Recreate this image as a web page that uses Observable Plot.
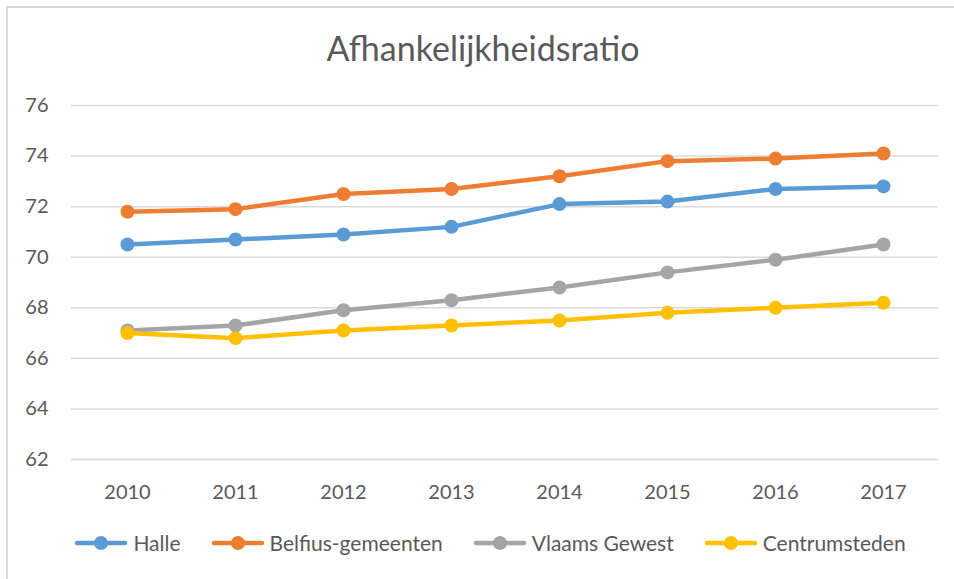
<!DOCTYPE html>
<html>
<head>
<meta charset="utf-8">
<script src="https://cdn.jsdelivr.net/npm/d3@7"></script>
<script src="https://cdn.jsdelivr.net/npm/@observablehq/plot@0.6"></script>
<style>
  html, body { margin: 0; padding: 0; background: #fff; }
  body { width: 954px; height: 579px; position: relative; overflow: hidden; font-family: Lato, "Open Sans", sans-serif; }
  #frame { position: absolute; left: 6px; top: 6px; width: 960px; height: 590px; border-left: 2px solid #d9d9d9; border-top: 2px solid #d9d9d9; box-sizing: border-box; }
  #title { position: absolute; left: 0; top: 28px; width: 966px; text-align: center; font-size: 34px; line-height: 1.2; color: #595959; font-weight: 400; }
  #plot { position: absolute; left: 0; top: 0; }
  #legend { position: absolute; left: 0; top: 530px; width: 980px; display: flex; justify-content: center; gap: 0 30px; font-size: 21px; color: #595959; }
  .item { display: flex; align-items: center; }
  .item svg { margin-right: 5px; }
</style>
</head>
<body>
<div id="frame"></div>
<div id="title">Afhankelijkheidsratio</div>
<div id="plot"></div>
<div id="legend"></div>
<script>
const years = [2010, 2011, 2012, 2013, 2014, 2015, 2016, 2017];
const seriesNames = ["Halle", "Belfius-gemeenten", "Vlaams Gewest", "Centrumsteden"];
const halle    = [70.5, 70.7, 70.9, 71.2, 72.1, 72.2, 72.7, 72.8];
const belfius  = [71.8, 71.9, 72.5, 72.7, 73.2, 73.8, 73.9, 74.1];
const vlaams   = [67.1, 67.3, 67.9, 68.3, 68.8, 69.4, 69.9, 70.5];
const centrum  = [67.0, 66.8, 67.1, 67.3, 67.5, 67.8, 68.0, 68.2];
const yTicks   = [62, 64, 66, 68, 70, 72, 74, 76];
const colors   = ["#5B9BD5", "#ED7D31", "#A5A5A5", "#FFC000"];

const allSeries = [halle, belfius, vlaams, centrum];
const data = [];
allSeries.forEach((vals, i) => {
  vals.forEach((v, j) => data.push({series: seriesNames[i], year: String(years[j]), value: v}));
});

const chart = Plot.plot({
  width: 954,
  height: 520,
  marginTop: 105,
  marginBottom: 61,
  marginLeft: 71,
  marginRight: 16,
  style: { fontFamily: "Lato, 'Open Sans', sans-serif", fontSize: "20px", color: "#595959", background: "transparent" },
  x: { type: "point", domain: years.map(String), padding: 0.5, label: null },
  y: { domain: [62, 76], ticks: yTicks, label: null },
  color: { domain: seriesNames, range: colors },
  marks: [
    Plot.gridY(yTicks, { stroke: "#d9d9d9", strokeOpacity: 1, strokeWidth: 1.5 }),
    Plot.axisY(yTicks, { tickSize: 0, tickPadding: 23, fontSize: 20, fill: "#595959", tickFormat: d => String(d) }),
    Plot.axisX({ tickSize: 0, tickPadding: 25, fontSize: 20, fill: "#595959" }),
    Plot.line(data, { x: "year", y: "value", z: "series", stroke: "series", strokeWidth: 4.5, strokeLinejoin: "round", strokeLinecap: "round" }),
    Plot.dot(data, { x: "year", y: "value", fill: "series", r: 7, stroke: "none" })
  ]
});
document.getElementById("plot").appendChild(chart);

const legend = document.getElementById("legend");
seriesNames.forEach((name, i) => {
  const item = document.createElement("div");
  item.className = "item";
  item.innerHTML = `<svg width="54" height="20"><line x1="3" y1="10" x2="51" y2="10" stroke="${colors[i]}" stroke-width="4.5" stroke-linecap="round"/><circle cx="27" cy="10" r="7" fill="${colors[i]}"/></svg><span>${name}</span>`;
  legend.appendChild(item);
});
</script>
</body>
</html>
